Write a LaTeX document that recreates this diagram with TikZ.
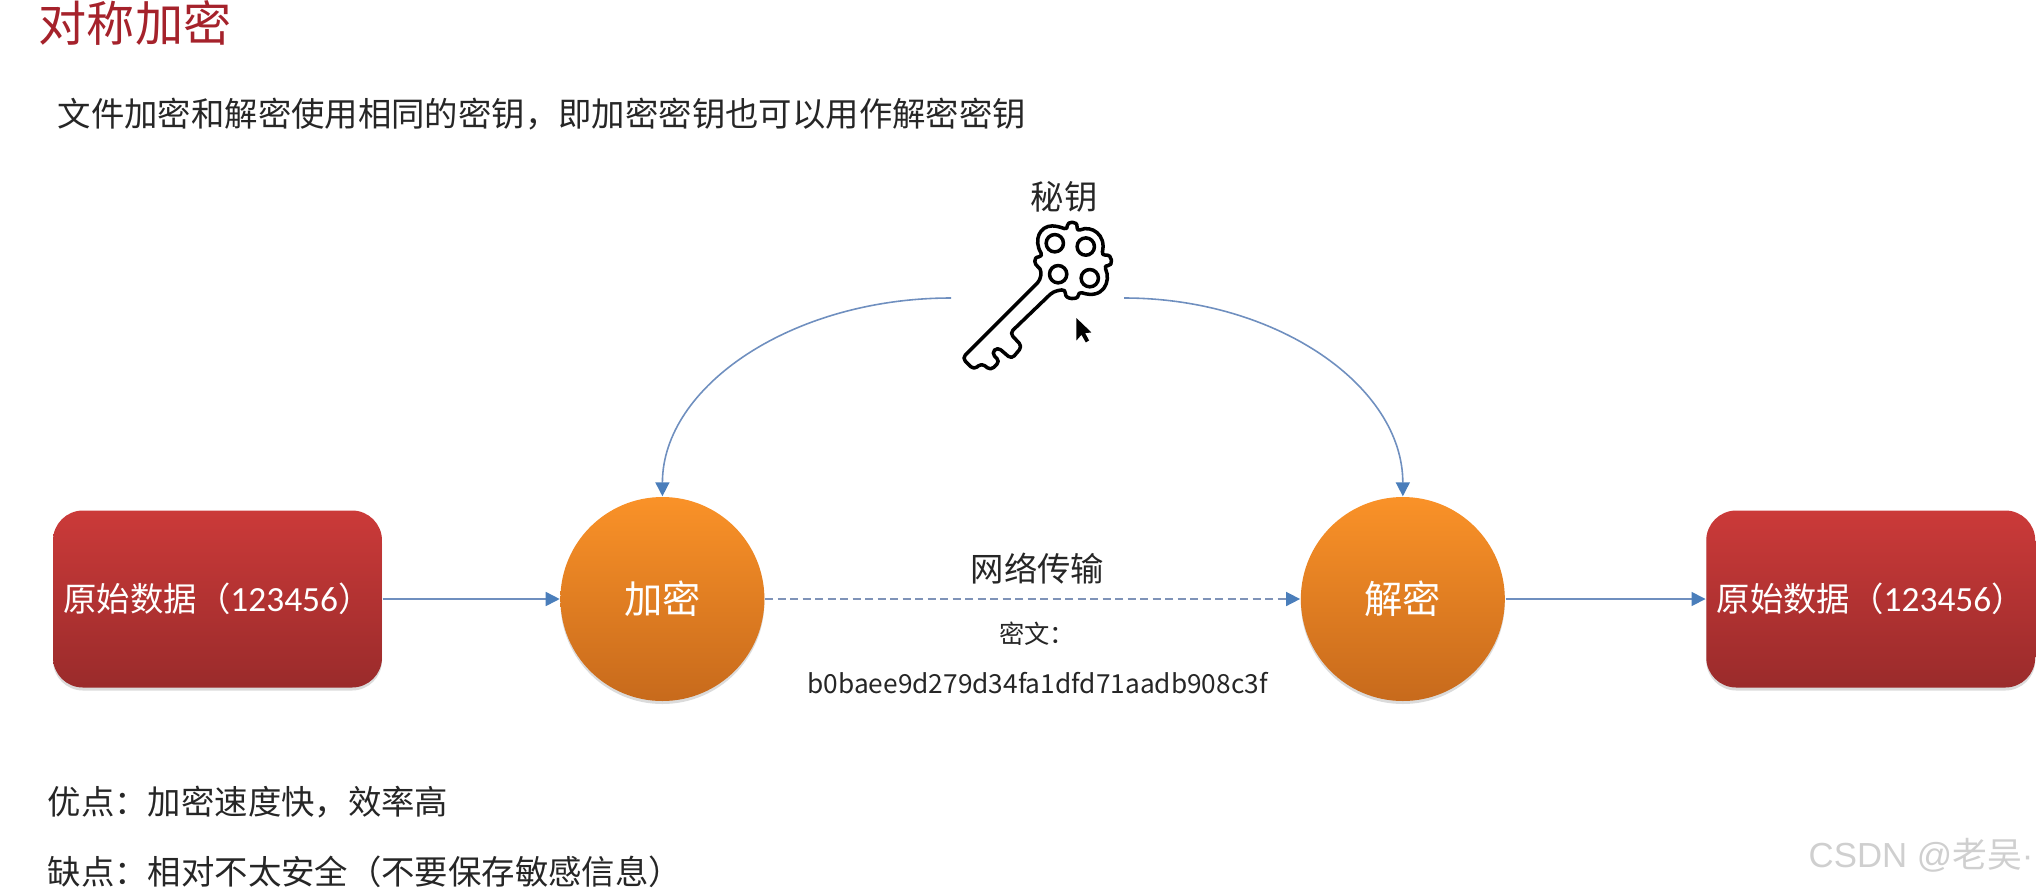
\documentclass[tikz,border=0pt]{standalone}
\usepackage{fontspec}
\usepackage{xcolor}
\setmainfont{Noto Sans CJK SC}
\newfontfamily\digitfont[Scale=1.06]{Carlito}
\newfontfamily\markfont{Liberation Sans}
\usetikzlibrary{arrows.meta,positioning,calc,shadows}
\newcommand{\fwcomma}{\char"FF0C\relax}
\newcommand{\fwcolon}{\char"FF1A\relax}
\newcommand{\fwopen}{\char"FF08\relax}
\newcommand{\fwclose}{\char"FF09\relax}
\definecolor{Blue}{HTML}{4A7EBB}
\definecolor{Wire}{HTML}{6F8FBF}
\definecolor{Dash}{HTML}{7F93B8}
\definecolor{Ink}{HTML}{262626}
\definecolor{Title}{HTML}{A5222B}
\definecolor{Mark}{HTML}{CFCFCF}
\definecolor{RedTop}{HTML}{CB3A39}
\definecolor{RedBot}{HTML}{9A2B2B}
\definecolor{OrangeTop}{HTML}{FA9228}
\definecolor{OrangeBot}{HTML}{C76A1C}
\tikzset{
  databox/.style={
    rounded corners=0.3cm,minimum width=3.29cm,minimum height=1.77cm,inner sep=0pt,
    top color=RedTop,bottom color=RedBot,
    drop shadow={shadow xshift=0cm,shadow yshift=-0.03cm,fill=black,opacity=0.14},
    font=\fontsize{9.5pt}{11pt}\selectfont,text=white
  },
  cipher/.style={
    circle,minimum size=2.04cm,inner sep=0pt,
    top color=OrangeTop,bottom color=OrangeBot,
    drop shadow={shadow xshift=0cm,shadow yshift=-0.03cm,fill=black,opacity=0.14},
    font=\fontsize{10.9pt}{12pt}\selectfont,text=white
  },
  plain/.style={inner sep=0pt,text=Ink,font=\fontsize{9.5pt}{11pt}\selectfont},
  small/.style={inner sep=0pt,text=Ink,font=\fontsize{7.2pt}{9pt}\selectfont},
  arrow/.style={line width=0.45pt,draw=Wire,
    arrows={-{Triangle[length=1.4mm,width=1.4mm,fill=Blue,color=Blue]}}},
  keyline/.style={draw=black,line width=1pt,line join=round}
}
\begin{document}
\begin{tikzpicture}
  \useasboundingbox (0,0) rectangle (20.42,-8.89);
  \node[inner sep=0pt,anchor=west,text=Title,font=\fontsize{13.7pt}{15pt}\selectfont] (title) at (0.38,-0.23) {对称加密};
  \node[plain,anchor=west] (intro) at (0.57,-1.14) {文件加密和解密使用相同的密钥\fwcomma 即加密密钥也可以用作解密密钥};

  \node[databox] (source) at (2.175,-5.99) {原始数据\fwopen{\digitfont 123456}\fwclose};
  \node[cipher,right=1.77cm of source] (encrypt) {加密};
  \node[cipher,right=5.35cm of encrypt] (decrypt) {解密};
  \node[databox,right=2cm of decrypt] (target) {原始数据\fwopen{\digitfont 123456}\fwclose};
  \draw[arrow] (source) -- (encrypt);
  \draw[arrow,dash pattern=on 0.08cm off 0.045cm,draw=Dash] (encrypt) -- (decrypt);
  \draw[arrow] (decrypt) -- (target);

  \node[plain] (network) at (10.375,-5.69) {网络传输};
  \node[small] (cipherhead) at (10.37,-6.34) {密文\fwcolon};
  \node[small,font=\fontsize{7.47pt}{9pt}\selectfont] (ciphertext) at (10.375,-6.83) {b0baee9d279d34fa1dfd71aadb908c3f};

  \node[plain] (keyname) at (10.64,-1.97) {秘钥};
  \coordinate (keyleft) at (9.51,-2.98);
  \coordinate (keyright) at (11.24,-2.98);
  \draw[arrow] (keyleft) .. controls +(-1.59,0) and +(0,1.1) .. (encrypt.north);
  \draw[arrow] (keyright) .. controls +(1.53,0) and +(0,1.1) .. (decrypt.north);

  \begin{scope}[shift={(9,-1.5)},x=0.0333mm,y=-0.0333mm]
    \draw[keyline,rounded corners=1.2pt] (187,625) -- (422,390) -- (424,355)
      .. controls (405,345) and (398,322) .. (430,320)
      .. controls (400,270) and (420,228) .. (470,228) -- (505,240)
      .. controls (500,215) and (535,210) .. (530,245)
      .. controls (575,225) and (620,255) .. (605,318)
      .. controls (640,312) and (640,350) .. (612,345)
      .. controls (635,395) and (610,450) .. (535,425)
      .. controls (535,450) and (495,450) .. (498,418)
      -- (460,425) -- (330,550) -- (367,590) -- (335,628) -- (293,592)
      -- (275,610) -- (300,635) -- (272,662) -- (245,640) -- (222,660) -- cycle;
    \foreach \hx/\hy in {465/280,558/290,475/373,570/385}
      \draw[keyline] (\hx,\hy) circle (26);
    \fill[black] (530,505) -- (530,572) -- (545,555) -- (558,578) -- (568,572)
      -- (556,550) -- (575,548) -- cycle;
  \end{scope}

  \node[plain,anchor=west] (pros) at (0.47,-8.02) {优点\fwcolon 加密速度快\fwcomma 效率高};
  \node[plain,anchor=west] (cons) at (0.47,-8.72) {缺点\fwcolon 相对不太安全\fwopen 不要保存敏感信息\fwclose};
  \node[inner sep=0pt,anchor=west,text=Mark,font=\fontsize{9.9pt}{12pt}\selectfont] (watermark) at (18.08,-8.55) {{\markfont CSDN @}老吴{\markfont ·}};
\end{tikzpicture}
\end{document}
